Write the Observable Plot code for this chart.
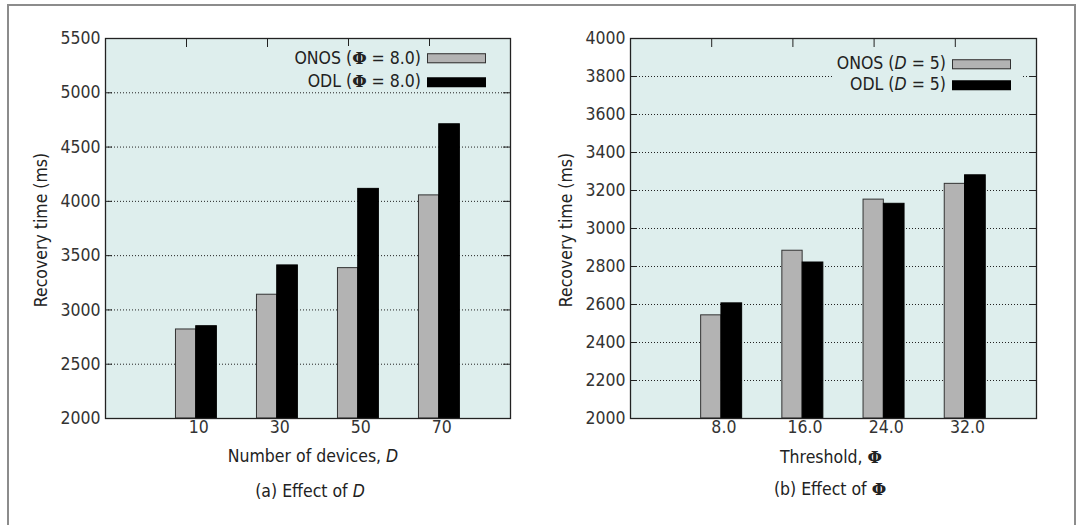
<!DOCTYPE html>
<html>
<head>
<meta charset="utf-8">
<script src="https://cdn.jsdelivr.net/npm/d3@7"></script>
<script src="https://cdn.jsdelivr.net/npm/@observablehq/plot@0.6"></script>
<style>
  html, body { margin: 0; padding: 0; background: #fff; }
  #page { position: relative; width: 1078px; height: 525px; overflow: hidden;
    font-family: "DejaVu Sans Condensed", "Liberation Sans Narrow", sans-serif; color: #222; }
  #border { position: absolute; left: 7px; top: 4px; width: 1069px; height: 560px; box-sizing: border-box;
    border: 2px solid #8c8c8c; border-bottom: none; }
  .panel { position: absolute; top: 0; }
  .ov { position: absolute; white-space: nowrap; font-size: 17.5px; line-height: 1; transform: translate(-50%, -50%); }
  .ytitle { transform: translate(-50%, -50%) rotate(-90deg); }
  .phi { font-family: "DejaVu Serif", "Liberation Serif", serif; font-weight: bold; font-size: 0.95em; }
  .legend { position: absolute; background: #deeeed; }
  .lrow { position: absolute; right: 0; display: flex; align-items: center; justify-content: flex-end;
    font-size: 17.5px; line-height: 1; transform: translateY(-50%); white-space: nowrap; }
  .sw { display: inline-block; width: 59px; height: 10px; margin-left: 6px; box-sizing: border-box; }
</style>
</head>
<body>
<div id="page">
  <div id="border"></div>
</div>
<script>
// ---- data ----
const catsD = ["10", "30", "50", "70"];
const onosD = [2820, 3140, 3385, 4055];
const odlD = [2850, 3410, 4115, 4710];
const yTicksD = [2000, 2500, 3000, 3500, 4000, 4500, 5000, 5500];

const catsPhi = ["8.0", "16.0", "24.0", "32.0"];
const onosPhi = [2543, 2883, 3152, 3235];
const odlPhi = [2606, 2821, 3130, 3280];
const yTicksPhi = [2000, 2200, 2400, 2600, 2800, 3000, 3200, 3400, 3600, 3800, 4000];

const seriesNames = ["ONOS", "ODL"];
const seriesFill = { ONOS: "#b3b3b3", ODL: "#000000" };
const seriesStroke = { ONOS: "#333333", ODL: "#000000" };

const W = 538, H = 525, MT = 38, MB = 107;
const FONT = '"DejaVu Sans Condensed", "Liberation Sans Narrow", sans-serif';
const FS = 17.5;

function panel({ cats, onos, odl, yTicks, marginLeft, marginRight }) {
  const rows = cats.flatMap((c, i) => [
    { i, series: "ONOS", v: onos[i] },
    { i, series: "ODL", v: odl[i] }
  ]);
  const fw = W - marginLeft - marginRight;
  const fh = H - MT - MB;
  const y0 = yTicks[0], y1 = yTicks[yTicks.length - 1];
  const off = { ONOS: [-0.13, 0.12], ODL: [0.12, 0.375] };
  return Plot.plot({
    width: W, height: H,
    marginTop: MT, marginBottom: MB, marginLeft, marginRight,
    x: { domain: [-1, 4], axis: null },
    y: { domain: [y0, y1] },
    style: { fontFamily: FONT, background: "transparent", overflow: "visible" },
    marks: [
      Plot.frame({ fill: "#deeeed" }),
      Plot.ruleY(yTicks.slice(1, -1), { stroke: "#222", strokeDasharray: "1,2", strokeWidth: 1 }),
      Plot.ruleY(yTicks, { stroke: "#222", insetRight: fw - 7 }),
      Plot.ruleY(yTicks, { stroke: "#222", insetLeft: fw - 7 }),
      Plot.ruleX(cats.map((c, i) => i), { x: d => d, stroke: "#222", insetBottom: fh - 9 }),
      Plot.rectY(rows, {
        x1: d => d.i + off[d.series][0],
        x2: d => d.i + off[d.series][1],
        y1: y0, y2: "v",
        fill: d => seriesFill[d.series],
        stroke: d => seriesStroke[d.series],
        strokeWidth: 1
      }),
      Plot.frame({ stroke: "#222", strokeWidth: 1.3 }),
      Plot.axisY(yTicks, { tickSize: 0, tickPadding: 5, fontSize: FS, fill: "#333", label: null, tickFormat: d => String(d) }),
      Plot.text(cats, { x: (d, i) => i + 0.15, frameAnchor: "bottom", dy: 14, fontSize: FS, fill: "#333", text: d => d })
    ]
  });
}

const page = document.getElementById("page");

function addPanel(left, opts) {
  const svg = panel(opts);
  svg.classList.add("panel");
  svg.style.left = left + "px";
  page.appendChild(svg);
}

addPanel(0, { cats: catsD, onos: onosD, odl: odlD, yTicks: yTicksD, marginLeft: 105, marginRight: 28 });
addPanel(538, { cats: catsPhi, onos: onosPhi, odl: odlPhi, yTicks: yTicksPhi, marginLeft: 92, marginRight: 40 });

function ov(html, x, y, cls) {
  const d = document.createElement("div");
  d.className = "ov" + (cls ? " " + cls : "");
  d.innerHTML = html;
  d.style.left = x + "px";
  d.style.top = y + "px";
  page.appendChild(d);
}

// axis titles & captions
ov("Recovery time (ms)", 42, 230, "ytitle");
ov("Recovery time (ms)", 567, 230, "ytitle");
ov('Number of devices, <i>D</i>', 313, 457);
ov('(a) Effect of <i>D</i>', 310, 492);
ov('Threshold, <span class="phi">Φ</span>', 831, 458);
ov('(b) Effect of <span class="phi">Φ</span>', 830, 490);

// legends
function legend(box, labels, rowY) {
  const lg = document.createElement("div");
  lg.className = "legend";
  lg.style.left = box.left + "px";
  lg.style.top = box.top + "px";
  lg.style.width = box.width + "px";
  lg.style.height = box.height + "px";
  seriesNames.forEach((s, k) => {
    const r = document.createElement("div");
    r.className = "lrow";
    r.style.top = (rowY[k] - box.top) + "px";
    r.style.right = box.padRight + "px";
    r.innerHTML = `<span>${labels[k]}</span><span class="sw" style="background:${seriesFill[s]};border:${s === "ONOS" ? "1.5px solid #333" : "none"}"></span>`;
    lg.appendChild(r);
  });
  page.appendChild(lg);
}

legend({ left: 292, top: 46, width: 200, height: 44, padRight: 6 },
  ['ONOS (<span class="phi">Φ</span> = 8.0)', 'ODL (<span class="phi">Φ</span> = 8.0)'], [58.5, 82.3]);
legend({ left: 834, top: 52, width: 187, height: 44, padRight: 10 },
  ['ONOS (<i>D</i> = 5)', 'ODL (<i>D</i> = 5)'], [63.8, 85.3]);
</script>
</body>
</html>
